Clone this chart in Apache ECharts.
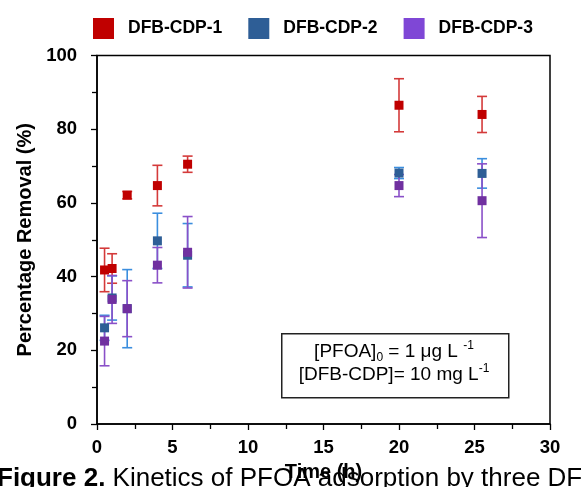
<!DOCTYPE html>
<html>
<head>
<meta charset="utf-8">
<script src="https://cdn.jsdelivr.net/npm/echarts@6/dist/echarts.min.js"></script>
<style>
  html, body { margin: 0; padding: 0; background: #fff; }
  #chart { width: 581px; height: 487px; }
</style>
</head>
<body>
<div id="chart"></div>
<script>
// sampling times (h)
const time = [0.5, 1, 2, 4, 6, 20, 25.5];

// percentage removal and error (±) for each polymer
const cdp1 = [41.8, 42.2, 62.1, 64.7, 70.5, 86.5, 84.0];
const cdp1Err = [5.9, 4.0, 1.0, 5.5, 2.2, 7.2, 4.9];
const cdp2 = [26.1, 34.2, 31.3, 49.7, 45.8, 68.1, 68.0];
const cdp2Err = [3.4, 6.0, 10.6, 7.5, 8.6, 1.5, 4.0];
const cdp3 = [22.5, 33.8, 31.3, 43.1, 46.6, 64.7, 60.6];
const cdp3Err = [6.7, 6.5, 7.6, 4.8, 9.7, 3.0, 10.0];

const names = ['DFB-CDP-1', 'DFB-CDP-2', 'DFB-CDP-3'];
const markerColors = ['#c00000', '#2e5e96', '#7030a0'];
const barColors = ['#d43a3a', '#3b8ede', '#8a50c8'];
const legendColors = ['#c00000', '#2e5e96', '#7f47d6'];

const FONT = 'Liberation Sans, Arial, sans-serif';

const chart = echarts.init(document.getElementById('chart'));

// error bar series (vertical line with caps)
function errorSeries(vals, errs, color) {
  return {
    type: 'custom',
    data: time.map((t, i) => [t, vals[i] - errs[i], vals[i] + errs[i]]),
    renderItem: function (params, api) {
      const lo = api.coord([api.value(0), api.value(1)]);
      const hi = api.coord([api.value(0), api.value(2)]);
      const half = 5;
      const style = { stroke: color, lineWidth: 1.6 };
      return {
        type: 'group',
        children: [
          { type: 'line', shape: { x1: lo[0], y1: lo[1], x2: hi[0], y2: hi[1] }, style: style },
          { type: 'line', shape: { x1: lo[0] - half, y1: lo[1], x2: lo[0] + half, y2: lo[1] }, style: style },
          { type: 'line', shape: { x1: hi[0] - half, y1: hi[1], x2: hi[0] + half, y2: hi[1] }, style: style }
        ]
      };
    },
    z: 2
  };
}

function pointSeries(name, vals, color) {
  return {
    name: name,
    type: 'scatter',
    symbol: 'rect',
    symbolSize: 9,
    data: time.map((t, i) => [t, vals[i]]),
    itemStyle: { color: color, opacity: 1 },
    z: 3
  };
}

const allVals = [cdp1, cdp2, cdp3];
const allErrs = [cdp1Err, cdp2Err, cdp3Err];
const series = [];
for (let i = 0; i < 3; i++) {
  series.push(errorSeries(allVals[i], allErrs[i], barColors[i]));
  series.push(pointSeries(names[i], allVals[i], markerColors[i]));
}

const option = {
  animation: false,
  backgroundColor: '#fff',
  grid: {
    left: 97, right: 31, top: 55.5, bottom: 60,
    show: true, borderColor: '#000', borderWidth: 1.5,
    backgroundColor: 'transparent'
  },
  legend: {
    left: 93, top: 18, padding: 0,
    itemWidth: 21, itemHeight: 21, itemGap: 26,
    icon: 'rect',
    data: names.map((n, i) => ({ name: n, itemStyle: { color: legendColors[i] } })),
    textStyle: { fontFamily: FONT, fontWeight: 'bold', fontSize: 17.5, color: '#000', padding: [0, 0, 0, 9] }
  },
  xAxis: {
    type: 'value', min: 0, max: 30, interval: 5,
    name: 'Time (h)', nameLocation: 'middle', nameGap: 38,
    nameTextStyle: { fontFamily: FONT, fontWeight: 'bold', fontSize: 20, color: '#000' },
    axisLine: { show: true, lineStyle: { color: '#000', width: 1.5 } },
    axisTick: { show: true, inside: false, length: 6, lineStyle: { color: '#000', width: 1.3 } },
    minorTick: { show: true, splitNumber: 2, length: 5, lineStyle: { color: '#000', width: 1.3 } },
    splitLine: { show: false },
    axisLabel: { fontFamily: FONT, fontWeight: 'bold', fontSize: 18.5, color: '#000', margin: 14 }
  },
  yAxis: {
    type: 'value', min: 0, max: 100, interval: 20,
    name: 'Percentage Removal (%)', nameLocation: 'middle', nameGap: 61,
    nameTextStyle: { fontFamily: FONT, fontWeight: 'bold', fontSize: 20, color: '#000' },
    axisLine: { show: true, lineStyle: { color: '#000', width: 1.5 } },
    axisTick: { show: true, inside: false, length: 6, lineStyle: { color: '#000', width: 1.3 } },
    minorTick: { show: true, splitNumber: 2, length: 5, lineStyle: { color: '#000', width: 1.3 } },
    splitLine: { show: false },
    axisLabel: { fontFamily: FONT, fontWeight: 'bold', fontSize: 18.5, color: '#000', margin: 20 }
  },
  graphic: [
    {
      type: 'rect', left: 281, top: 333, z: 10,
      shape: { width: 227, height: 64 },
      style: { fill: '#fff', stroke: '#222', lineWidth: 1.5 }
    },
    {
      type: 'text', x: 394, y: 352, z: 11,
      style: {
        text: '[PFOA]{sub|0} = 1 μg L {sup|-1}',
        align: 'center', verticalAlign: 'middle',
        font: '19px ' + FONT, fill: '#000',
        rich: {
          sub: { fontSize: 12, fontFamily: FONT, verticalAlign: 'bottom', lineHeight: 24 },
          sup: { fontSize: 12, fontFamily: FONT, verticalAlign: 'top', lineHeight: 24 }
        }
      }
    },
    {
      type: 'text', x: 394, y: 375, z: 11,
      style: {
        text: '[DFB-CDP]= 10 mg L{sup|-1}',
        align: 'center', verticalAlign: 'middle',
        font: '19px ' + FONT, fill: '#000',
        rich: {
          sup: { fontSize: 12, fontFamily: FONT, verticalAlign: 'top', lineHeight: 24 }
        }
      }
    },
    {
      type: 'text', x: -3, y: 479, z: 11,
      style: {
        text: '{b|Figure 2.} Kinetics of PFOA adsorption by three DFB-CDP polymers',
        align: 'left', verticalAlign: 'middle',
        font: '26px ' + FONT, fill: '#000',
        rich: {
          b: { fontSize: 26, fontFamily: FONT, fontWeight: 'bold' }
        }
      }
    }
  ],
  series: series
};

chart.setOption(option);
</script>
</body>
</html>
